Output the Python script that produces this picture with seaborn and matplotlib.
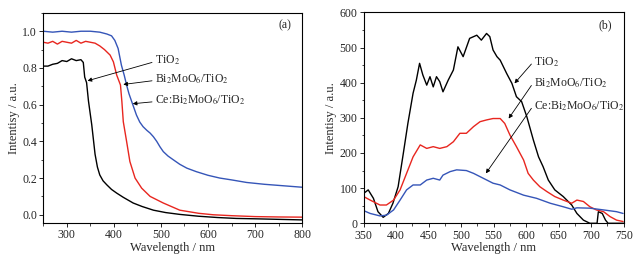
import numpy as np
import pandas as pd
import seaborn as sns
import matplotlib.pyplot as plt
from matplotlib.ticker import MultipleLocator

# (a) absorbance spectra
a_tio2_x = [250, 260, 270, 280, 290, 300, 310, 320, 330, 335, 338, 342, 346, 353, 360, 365, 370, 377, 385,
            395, 406, 420, 441, 460, 484, 510, 540, 580, 620, 660, 700, 750, 800]
a_tio2_y = [0.81, 0.81, 0.82, 0.825, 0.84, 0.835, 0.85, 0.84, 0.845, 0.83, 0.75, 0.72, 0.62, 0.49, 0.33, 0.26,
            0.217, 0.185, 0.163, 0.138, 0.118, 0.095, 0.064, 0.045, 0.025, 0.012, 0.002, -0.008, -0.015, -0.02,
            -0.022, -0.025, -0.028]
a_bi_x = [250, 260, 270, 280, 290, 300, 310, 320, 330, 340, 350, 360, 370, 380, 388, 392, 399, 406, 414, 417,
          420, 427, 434, 445, 459, 477, 505, 540, 580, 611, 650, 700, 750, 800]
a_bi_y = [0.94, 0.935, 0.945, 0.93, 0.945, 0.94, 0.935, 0.95, 0.935, 0.945, 0.94, 0.935, 0.92, 0.9, 0.88, 0.87,
          0.833, 0.761, 0.707, 0.616, 0.507, 0.40, 0.29, 0.2, 0.145, 0.10, 0.064, 0.025, 0.008, 0.0, -0.005,
          -0.01, -0.012, -0.013]
a_ce_x = [250, 270, 290, 310, 330, 350, 370, 385, 395, 402, 409, 416, 422, 427, 432, 438, 448, 455, 462, 470,
          477, 484, 491, 498, 505, 515, 526, 540, 555, 575, 600, 625, 650, 682, 720, 760, 800]
a_ce_y = [1.0, 0.995, 1.0, 0.995, 1.0, 1.0, 0.995, 0.985, 0.975, 0.95, 0.906, 0.815, 0.76, 0.707, 0.66, 0.616,
          0.543, 0.505, 0.48, 0.46, 0.445, 0.425, 0.40, 0.37, 0.344, 0.32, 0.30, 0.275, 0.254, 0.235, 0.215, 0.2,
          0.19, 0.176, 0.166, 0.158, 0.15]

# (b) PL spectra
b_tio2_x = [350, 357, 365, 372, 380, 388, 395, 403, 411, 418, 426, 431, 436, 441, 447, 452, 457, 462, 467, 472,
            480, 488, 495, 503, 513, 524, 531, 539, 544, 549, 555, 560, 570, 578, 585, 593, 601, 611, 619, 626,
            634, 644, 657, 670, 678, 688, 698, 705, 709, 711, 717, 722, 726, 750]
b_tio2_y = [85, 95, 71, 33, 17, 28, 57, 104, 199, 284, 370, 407, 455, 422, 393, 417, 388, 417, 403, 374,
            407, 436, 502, 474, 526, 535, 521, 540, 531, 493, 474, 464, 426, 398, 360, 346, 303, 237, 189, 161,
            123, 95, 76, 52, 28, 9, 0, 0, 0, 33, 28, 9, 0, 0]
b_bi_x = [350, 360, 375, 385, 396, 406, 416, 426, 437, 447, 457, 467, 478, 488, 498, 508, 519, 529, 539, 549,
          560, 567, 575, 585, 596, 603, 611, 621, 632, 644, 657, 670, 678, 688, 698, 708, 719, 729, 739, 749]
b_bi_y = [76, 66, 52, 52, 66, 95, 142, 189, 223, 213, 218, 213, 218, 232, 256, 256, 275, 289, 294, 298,
          298, 284, 251, 218, 180, 142, 123, 104, 90, 76, 66, 57, 66, 62, 47, 38, 33, 19, 9, 5]
b_ce_x = [350, 360, 375, 385, 396, 406, 416, 426, 437, 447, 457, 467, 472, 483, 493, 508, 519, 534, 549, 560,
          575, 596, 616, 637, 657, 670, 678, 698, 719, 739, 749]
b_ce_y = [36, 28, 21, 23, 38, 66, 95, 109, 109, 123, 128, 123, 137, 147, 152, 150, 142, 128, 114, 109,
          95, 80, 71, 57, 47, 40, 44, 43, 38, 33, 28]

names = ["TiO2", "Bi2MoO6/TiO2", "Ce:Bi2MoO6/TiO2"]
colors = ["#000000", "#e8261f", "#3555b8"]
labels = ["TiO$_2$", "Bi$_2$MoO$_6$/TiO$_2$", "Ce:Bi$_2$MoO$_6$/TiO$_2$"]

df_a = pd.concat([pd.DataFrame({"x": a_tio2_x, "y": a_tio2_y, "s": names[0]}),
                  pd.DataFrame({"x": a_bi_x, "y": a_bi_y, "s": names[1]}),
                  pd.DataFrame({"x": a_ce_x, "y": a_ce_y, "s": names[2]})])
df_b = pd.concat([pd.DataFrame({"x": b_tio2_x, "y": b_tio2_y, "s": names[0]}),
                  pd.DataFrame({"x": b_bi_x, "y": b_bi_y, "s": names[1]}),
                  pd.DataFrame({"x": b_ce_x, "y": b_ce_y, "s": names[2]})])

sns.set_style("ticks")
plt.rcParams["font.family"] = ["Liberation Serif", "DejaVu Serif"]
plt.rcParams["mathtext.fontset"] = "stix"
plt.rcParams["axes.linewidth"] = 0.8

fig = plt.figure(figsize=(6.44, 2.63), dpi=100)
ax1 = fig.add_axes([0.0672, 0.152, 0.402, 0.799])
ax2 = fig.add_axes([0.5647, 0.151, 0.4038, 0.802])

pal = dict(zip(names, colors))
sns.lineplot(data=df_a, x="x", y="y", hue="s", palette=pal, estimator=None, sort=False,
             lw=1.0, legend=False, ax=ax1)
sns.lineplot(data=df_b, x="x", y="y", hue="s", palette=pal, estimator=None, sort=False,
             lw=1.0, legend=False, ax=ax2)

ax1.set_xlim(250, 800)
ax1.set_ylim(-0.045, 1.1)
ax1.xaxis.set_major_locator(MultipleLocator(100))
ax1.xaxis.set_minor_locator(MultipleLocator(50))
ax1.yaxis.set_major_locator(MultipleLocator(0.2))
ax1.yaxis.set_minor_locator(MultipleLocator(0.1))
ax1.set_yticks([0.0, 0.2, 0.4, 0.6, 0.8, 1.0])
ax1.set_yticklabels(["0.0", "0.2", "0.4", "0.6", "0.8", "1.0"])

ax2.set_xlim(350, 750)
ax2.set_ylim(0, 600)
ax2.xaxis.set_major_locator(MultipleLocator(50))
ax2.xaxis.set_minor_locator(MultipleLocator(25))
ax2.yaxis.set_major_locator(MultipleLocator(100))
ax2.yaxis.set_minor_locator(MultipleLocator(50))

for ax in (ax1, ax2):
    ax.set_xlabel("Wavelength / nm", fontsize=9, labelpad=0.5)
    ax.set_ylabel("Intentisy / a.u.", fontsize=9, labelpad=1.5)
    ax.tick_params(which="major", direction="out", length=3, width=0.7, labelsize=8.5, pad=1.5)
    ax.tick_params(which="minor", direction="out", length=1.8, width=0.6)
    for sp in ax.spines.values():
        sp.set_visible(True)
        sp.set_color("black")

arrow = dict(arrowstyle="-|>", color="black", lw=0.6, mutation_scale=6, shrinkA=0, shrinkB=0)

# panel (a) annotations
ax1.text(763, 1.03, "(a)", fontsize=8.5, ha="center", va="center")
a_text_y = [0.84, 0.74, 0.625]
a_tips = [(344, 0.73), (420, 0.71), (440, 0.605)]
for lab, ty, tip in zip(labels, a_text_y, a_tips):
    ax1.text(487, ty, lab, fontsize=8.5, ha="left", va="center")
    ax1.annotate("", xy=tip, xytext=(481, ty - 0.01), arrowprops=arrow)

# panel (b) annotations
ax2.text(722, 564, "(b)", fontsize=8.5, ha="center", va="center")
b_text_y = [459, 398, 333]
b_tips = [(582, 398), (573, 298), (538, 142)]
for lab, ty, tip in zip(labels, b_text_y, b_tips):
    ax2.text(612, ty, lab, fontsize=8.5, ha="left", va="center")
    ax2.annotate("", xy=tip, xytext=(608, ty - 6), arrowprops=arrow)

fig.savefig("out.png", dpi=100)
